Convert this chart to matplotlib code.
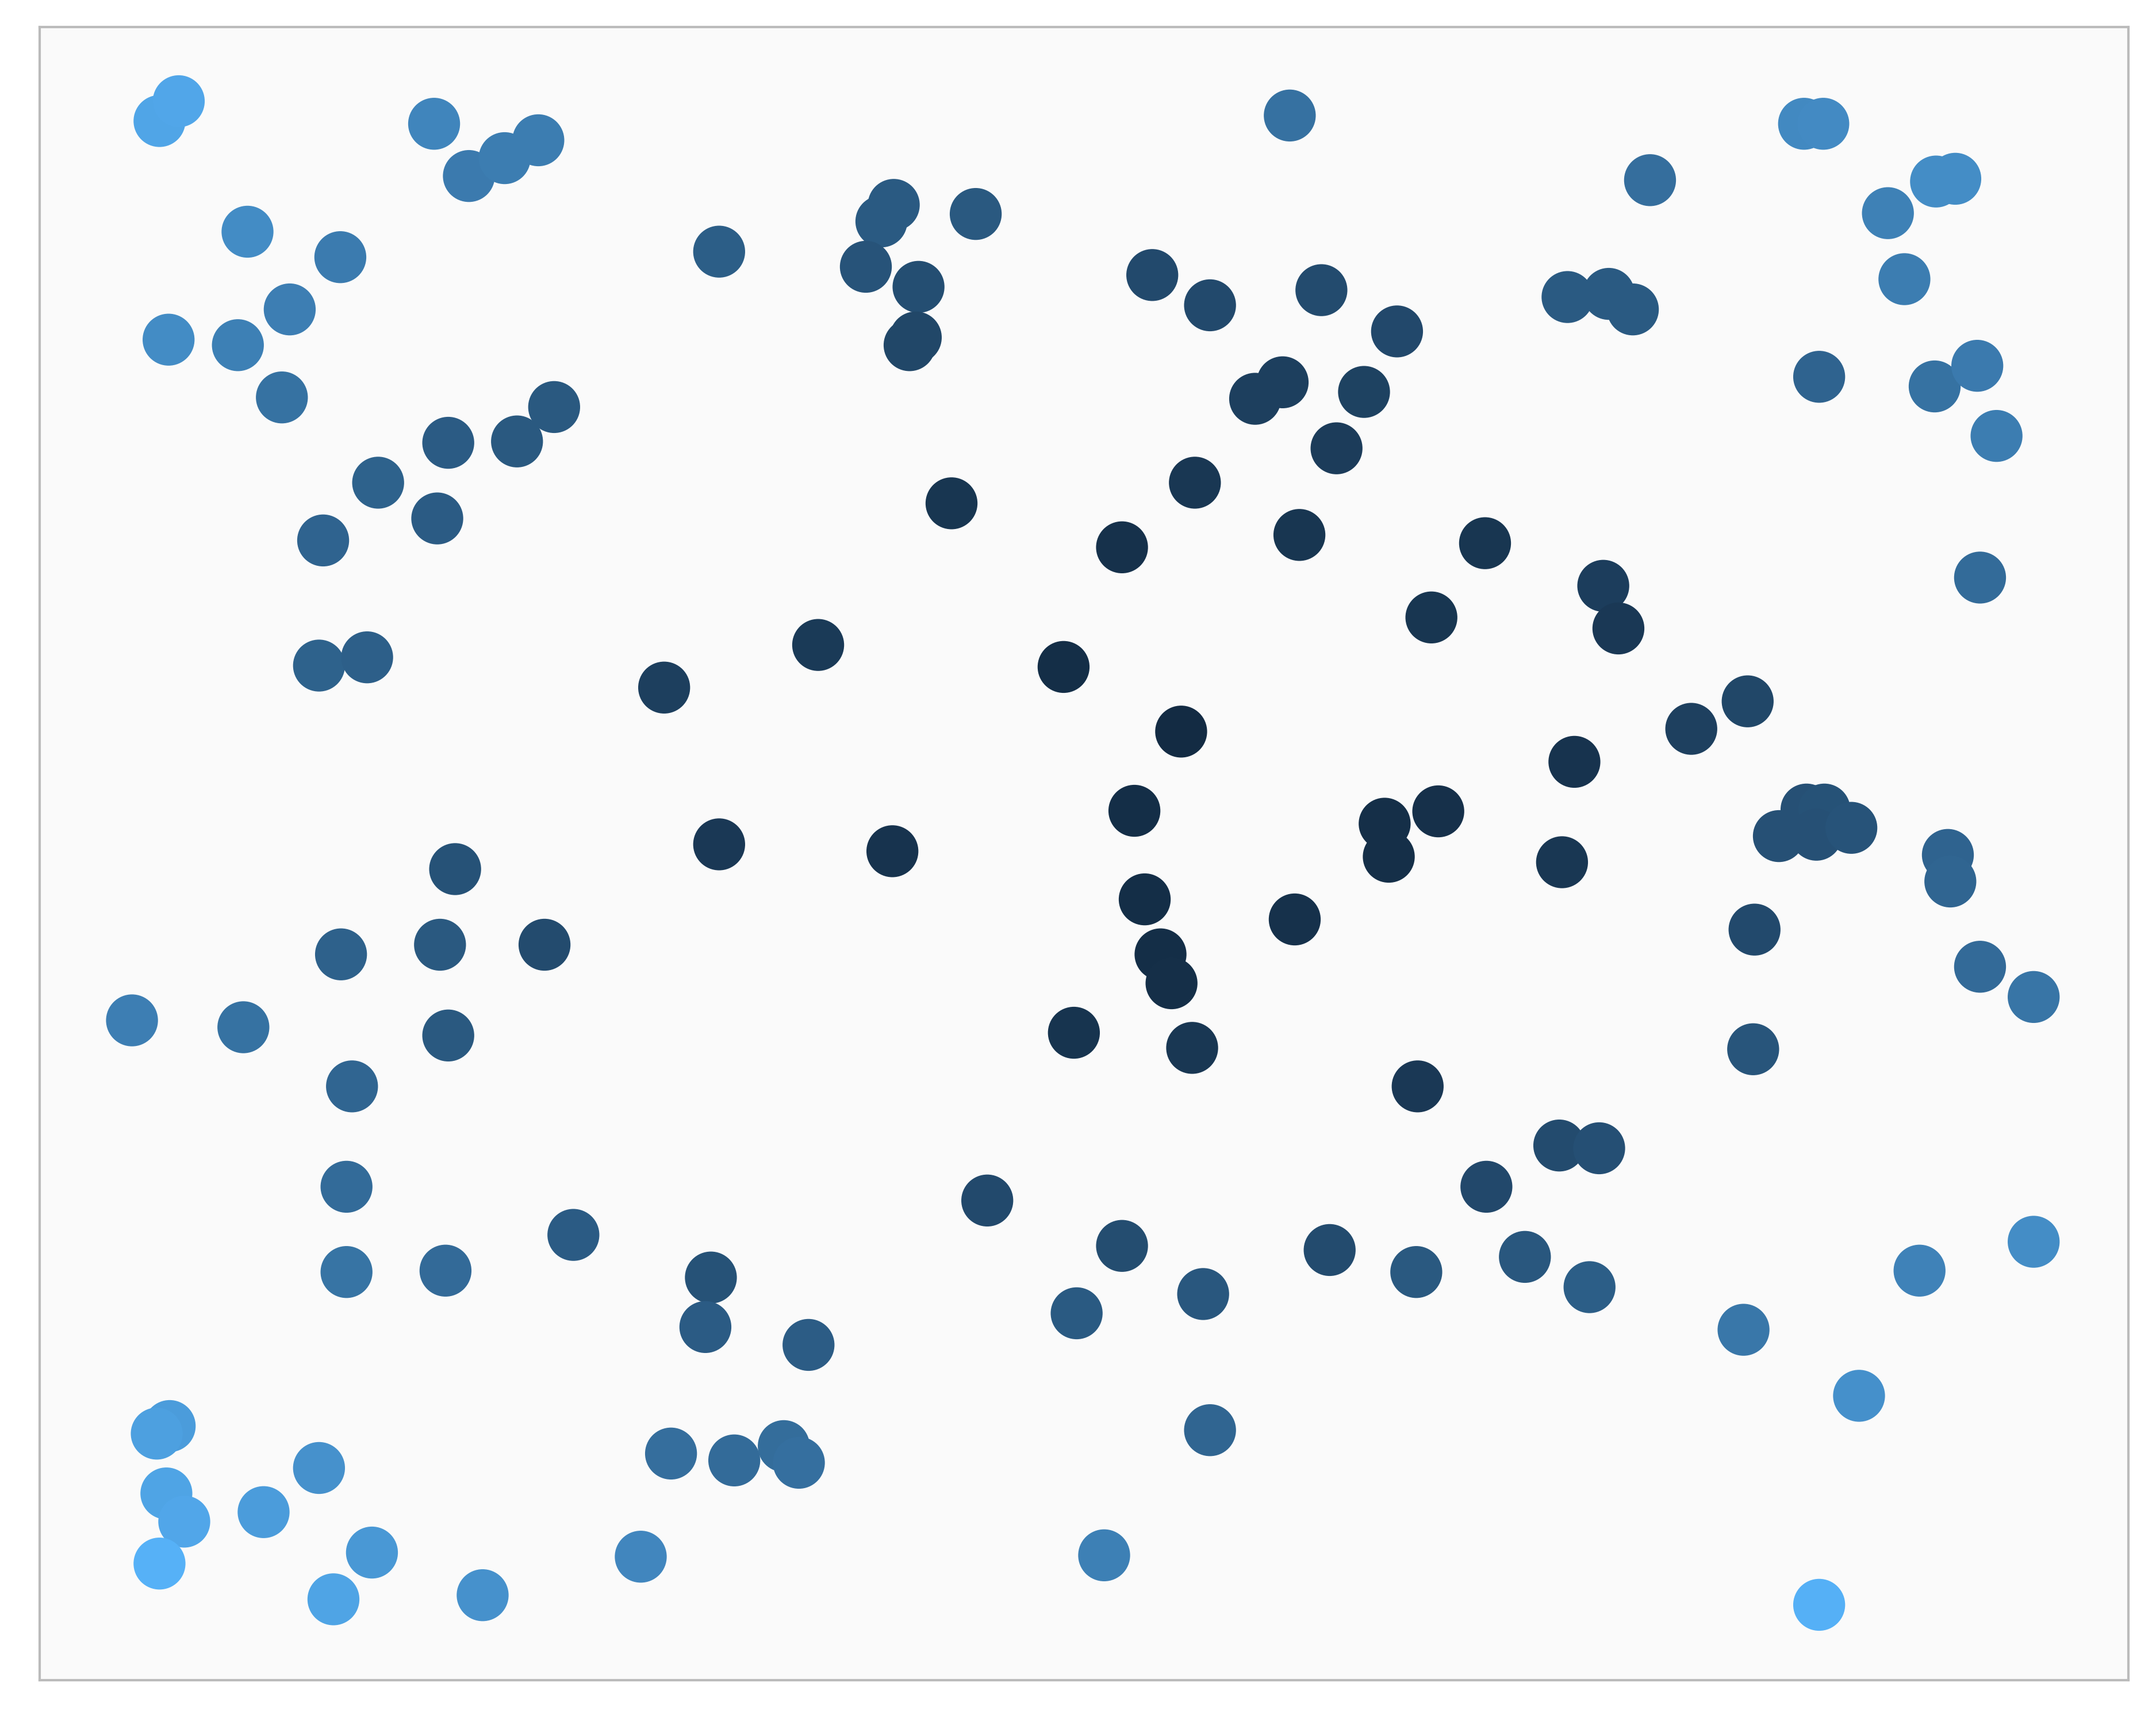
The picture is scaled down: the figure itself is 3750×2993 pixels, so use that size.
import matplotlib
matplotlib.use("Agg")
import matplotlib.pyplot as plt
from matplotlib.colors import LinearSegmentedColormap

# Point positions (horizontal units left->right, vertical units top->bottom)
x = [116, 130, 315.7, 341, 367, 391.5, 180, 247.5, 210.7, 122.6,
     173, 205, 523, 650, 641, 709.6, 629.7, 668, 666, 661.5,
     938, 838, 880, 961, 1016, 1140, 1170, 1187.5, 1200, 1312,
     1326, 1373, 1408, 1422, 1385, 1323, 1407, 1438, 1452, 1440,
     932.8, 912.8, 992, 972, 869, 945, 816, 692, 1080, 1166,
     1177, 1041, 403, 376, 326, 275, 318, 235, 232, 267,
     483, 595, 773.5, 859, 1271, 1230, 1145, 825, 1007, 1046,
     1010, 1136, 523, 649, 331, 248, 320, 396, 832.5, 844,
     852, 941.6, 1293.7, 1313.8, 1326.8, 1321, 1346.4, 1416.6, 1418.4, 1276,
     1440, 1479, 96, 177, 326, 256, 781, 867, 1275, 1031,
     1134, 1163, 1081, 252, 718, 417, 252, 324, 517, 513,
     588, 816, 967, 1030, 1109, 1156, 875, 783, 1396, 1479,
     1268, 1352, 880, 123.4, 114, 232, 121, 134, 191.7, 116,
     270.5, 242.5, 351, 466, 488, 534, 570, 581, 803, 1323]
y = [88, 73.6, 90, 128, 115, 102, 168.5, 187, 225, 247,
     251, 289, 183, 149, 161, 155.6, 194, 208.6, 245.4, 251,
     84, 200, 222, 211, 241, 216, 213.7, 225, 131, 90,
     90, 155, 132, 130, 203, 274, 281, 266, 317, 420,
     278, 290, 285, 326, 351, 389, 398, 366, 395, 426,
     457, 449, 296, 321, 322, 351, 377, 393, 484, 478,
     500, 469, 485, 532, 510, 530, 554, 589.6, 599, 590,
     623, 627, 614, 619, 632, 694, 687, 687, 654, 694,
     715, 668.6, 608, 588.7, 588.7, 607, 602, 621.7, 641, 676,
     703, 725, 742, 747, 753, 790, 751, 762, 763, 790,
     833, 835, 863, 863, 873, 898, 925, 924, 929, 965,
     978, 906, 909, 925, 914, 936, 941, 955, 924, 903,
     967, 1015, 1040, 1037, 1042.5, 1067.5, 1086, 1106.5, 1099.6, 1137,
     1129, 1163, 1160, 1132, 1057, 1062, 1051.6, 1063.7, 1131, 1167]
# Colour value of each point (0 = darkest, 1 = lightest)
value = [0.91, 0.92, 0.67, 0.59, 0.61, 0.61, 0.72, 0.60, 0.62, 0.72,
         0.63, 0.53, 0.38, 0.35, 0.35, 0.34, 0.30, 0.26, 0.21, 0.21,
         0.52, 0.23, 0.23, 0.24, 0.22, 0.35, 0.35, 0.35, 0.50, 0.70,
         0.71, 0.64, 0.73, 0.73, 0.61, 0.42, 0.53, 0.59, 0.61, 0.48,
         0.15, 0.15, 0.17, 0.13, 0.09, 0.08, 0.05, 0.08, 0.08, 0.14,
         0.10, 0.08, 0.34, 0.34, 0.36, 0.41, 0.36, 0.42, 0.41, 0.39,
         0.15, 0.11, 0.02, 0.00, 0.21, 0.16, 0.06, 0.02, 0.03, 0.04,
         0.03, 0.09, 0.10, 0.06, 0.29, 0.40, 0.34, 0.24, 0.02, 0.02,
         0.03, 0.05, 0.28, 0.28, 0.29, 0.28, 0.30, 0.42, 0.43, 0.23,
         0.47, 0.55, 0.62, 0.53, 0.34, 0.43, 0.07, 0.09, 0.31, 0.10,
         0.24, 0.27, 0.22, 0.48, 0.23, 0.36, 0.54, 0.47, 0.29, 0.36,
         0.37, 0.25, 0.24, 0.34, 0.33, 0.38, 0.33, 0.35, 0.65, 0.73,
         0.57, 0.75, 0.43, 0.84, 0.87, 0.76, 0.90, 0.92, 0.84, 1.00,
         0.81, 0.90, 0.76, 0.68, 0.50, 0.48, 0.49, 0.51, 0.63, 0.99]

cmap = LinearSegmentedColormap.from_list("gg", ["#132B43", "#56B1F7"])

fig = plt.figure(figsize=(12.5, 2993 / 300), dpi=300)
ax = fig.add_axes([69 / 3750, 1 - 2922 / 2993, (3702 - 69) / 3750, (2922 - 47) / 2993])
ax.set_facecolor("#fafafa")
ax.scatter(x, y, c=value, cmap=cmap, vmin=0, vmax=1, s=470,
           edgecolors="none", linewidths=0, zorder=3)
ax.set_xlim(28.85, 1547.9)
ax.set_ylim(1221.8, 19.65)
ax.set_xticks([])
ax.set_yticks([])
for sp in ax.spines.values():
    sp.set_color("#bbbbbb")
    sp.set_linewidth(1.0)

fig.savefig("out.png", dpi=300, facecolor="white")
